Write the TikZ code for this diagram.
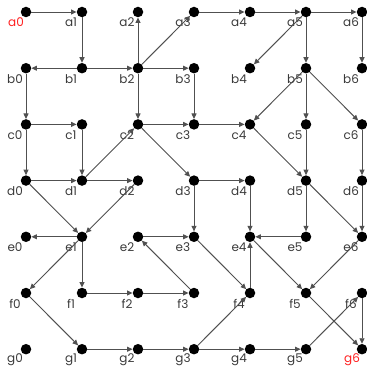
\documentclass[tikz,border=0pt]{standalone}
\usepackage{fontspec}
\usepackage{xcolor}
\usepackage{tikz}
\usetikzlibrary{arrows.meta}
\newfontfamily\labfont{Poppins}
\definecolor{myedge}{HTML}{505050}
\definecolor{mytext}{HTML}{3A3A3A}
\definecolor{myred}{HTML}{FF2020}
\tikzset{
dot/.style={
circle,
fill=black,
inner sep=0pt,
minimum size=10.5pt
},
lab/.style={
label={[font=\labfont\fontsize{12}{14}\selectfont, text=mytext, xshift=-11pt, yshift=-10.5pt]center:#1}
},
labred/.style={
label={[font=\labfont\fontsize{12}{14}\selectfont, text=myred, xshift=-10pt, yshift=-10.5pt]center:#1}
},
arrow/.style={
-{Triangle[length=5.5pt,width=5pt]},
line width=0.95pt,
draw=myedge
}
}

\begin{document}
\begin{tikzpicture}[x=56pt, y=-56.2pt, shift={(26pt,-12pt)}]
\useasboundingbox (-26pt,12pt) rectangle (340pt,-354pt);

% row a
\node[dot, labred=a0] (a0) at (0,0) {};
\node[dot, lab=a1] (a1) at (1,0) {};
\node[dot, lab=a2] (a2) at (2,0) {};
\node[dot, lab=a3] (a3) at (3,0) {};
\node[dot, lab=a4] (a4) at (4,0) {};
\node[dot, lab=a5] (a5) at (5,0) {};
\node[dot, lab=a6] (a6) at (6,0) {};
% row b
\node[dot, lab=b0] (b0) at (0,1) {};
\node[dot, lab=b1] (b1) at (1,1) {};
\node[dot, lab=b2] (b2) at (2,1) {};
\node[dot, lab=b3] (b3) at (3,1) {};
\node[dot, lab=b4] (b4) at (4,1) {};
\node[dot, lab=b5] (b5) at (5,1) {};
\node[dot, lab=b6] (b6) at (6,1) {};
% row c
\node[dot, lab=c0] (c0) at (0,2) {};
\node[dot, lab=c1] (c1) at (1,2) {};
\node[dot, lab=c2] (c2) at (2,2) {};
\node[dot, lab=c3] (c3) at (3,2) {};
\node[dot, lab=c4] (c4) at (4,2) {};
\node[dot, lab=c5] (c5) at (5,2) {};
\node[dot, lab=c6] (c6) at (6,2) {};
% row d
\node[dot, lab=d0] (d0) at (0,3) {};
\node[dot, lab=d1] (d1) at (1,3) {};
\node[dot, lab=d2] (d2) at (2,3) {};
\node[dot, lab=d3] (d3) at (3,3) {};
\node[dot, lab=d4] (d4) at (4,3) {};
\node[dot, lab=d5] (d5) at (5,3) {};
\node[dot, lab=d6] (d6) at (6,3) {};
% row e
\node[dot, lab=e0] (e0) at (0,4) {};
\node[dot, lab=e1] (e1) at (1,4) {};
\node[dot, lab=e2] (e2) at (2,4) {};
\node[dot, lab=e3] (e3) at (3,4) {};
\node[dot, lab=e4] (e4) at (4,4) {};
\node[dot, lab=e5] (e5) at (5,4) {};
\node[dot, lab=e6] (e6) at (6,4) {};
% row f
\node[dot, lab=f0] (f0) at (0,5) {};
\node[dot, lab=f1] (f1) at (1,5) {};
\node[dot, lab=f2] (f2) at (2,5) {};
\node[dot, lab=f3] (f3) at (3,5) {};
\node[dot, lab=f4] (f4) at (4,5) {};
\node[dot, lab=f5] (f5) at (5,5) {};
\node[dot, lab=f6] (f6) at (6,5) {};
% row g
\node[dot, lab=g0] (g0) at (0,6) {};
\node[dot, lab=g1] (g1) at (1,6) {};
\node[dot, lab=g2] (g2) at (2,6) {};
\node[dot, lab=g3] (g3) at (3,6) {};
\node[dot, lab=g4] (g4) at (4,6) {};
\node[dot, lab=g5] (g5) at (5,6) {};
\node[dot, labred=g6] (g6) at (6,6) {};

% edges
\draw[arrow] (a0) -- (a1);
\draw[arrow] (a1) -- (b1);
\draw[arrow] (b2) -- (a2);
\draw[arrow] (b2) -- (a3);
\draw[arrow] (a3) -- (a4);
\draw[arrow] (a4) -- (a5);
\draw[arrow] (a5) -- (a6);
\draw[arrow] (a5) -- (b4);
\draw[arrow] (a5) -- (b5);
\draw[arrow] (a6) -- (b6);

\draw[arrow] (b1) -- (b0);
\draw[arrow] (b1) -- (b2);
\draw[arrow] (b2) -- (b3);
\draw[arrow] (b0) -- (c0);
\draw[arrow] (b2) -- (c2);
\draw[arrow] (b3) -- (c3);
\draw[arrow] (b5) -- (c4);
\draw[arrow] (b5) -- (c5);
\draw[arrow] (b5) -- (c6);

\draw[arrow] (c0) -- (c1);
\draw[arrow] (c0) -- (d0);
\draw[arrow] (c1) -- (d1);
\draw[arrow] (d1) -- (c2);
\draw[arrow] (c2) -- (c3);
\draw[arrow] (c3) -- (c4);
\draw[arrow] (c2) -- (d3);
\draw[arrow] (c4) -- (d5);
\draw[arrow] (c5) -- (d5);
\draw[arrow] (c6) -- (d6);

\draw[arrow] (d0) -- (d1);
\draw[arrow] (d1) -- (d2);
\draw[arrow] (d0) -- (e1);
\draw[arrow] (d2) -- (e1);
\draw[arrow] (d3) -- (d4);
\draw[arrow] (d3) -- (e3);
\draw[arrow] (d4) -- (e4);
\draw[arrow] (d5) -- (e5);
\draw[arrow] (d5) -- (e6);
\draw[arrow] (d6) -- (e6);

\draw[arrow] (e1) -- (e0);
\draw[arrow] (e1) -- (f1);
\draw[arrow] (e1) -- (f0);
\draw[arrow] (e2) -- (e3);
\draw[arrow] (e3) -- (f4);
\draw[arrow] (e5) -- (e4);
\draw[arrow] (e4) -- (f5);
\draw[arrow] (e6) -- (f5);

\draw[arrow] (f0) -- (g1);
\draw[arrow] (f1) -- (f2);
\draw[arrow] (f2) -- (f3);
\draw[arrow] (f3) -- (e2);
\draw[arrow] (f4) -- (e4);
\draw[arrow] (f5) -- (g6);
\draw[arrow] (f6) -- (g6);

\draw[arrow] (g1) -- (g2);
\draw[arrow] (g2) -- (g3);
\draw[arrow] (g3) -- (g4);
\draw[arrow] (g4) -- (g5);
\draw[arrow] (g3) -- (f4);
\draw[arrow] (g5) -- (f6);

\end{tikzpicture}
\end{document}
